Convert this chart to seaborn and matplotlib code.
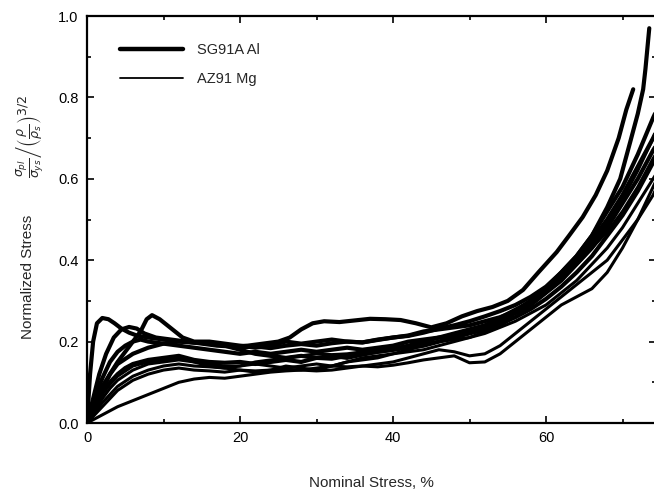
import numpy as np
import pandas as pd
import matplotlib
matplotlib.use("Agg")
import matplotlib.pyplot as plt
import seaborn as sns
from matplotlib.lines import Line2D

# ---------------- data ----------------
materials = ["SG91A Al", "AZ91 Mg"]

al1_x = [0, 0.4, 0.8, 1.3, 2.0, 2.8, 3.6, 4.5, 5.5, 6.5, 8, 10, 12, 14, 16, 18, 20, 22, 24, 26, 28, 30, 32, 34, 36, 38, 40, 42, 44, 46, 48, 50, 52, 54, 56, 58, 60, 62, 64, 66, 68, 69.7, 71, 72, 72.7, 73, 73.5]
al1_y = [0, 0.12, 0.2, 0.245, 0.258, 0.255, 0.245, 0.232, 0.222, 0.215, 0.21, 0.205, 0.2, 0.198, 0.196, 0.19, 0.186, 0.188, 0.184, 0.19, 0.194, 0.19, 0.196, 0.2, 0.198, 0.204, 0.21, 0.214, 0.222, 0.232, 0.24, 0.25, 0.262, 0.275, 0.29, 0.31, 0.335, 0.37, 0.41, 0.46, 0.53, 0.6, 0.69, 0.76, 0.82, 0.87, 0.97]

al2_x = [0, 0.8, 1.6, 2.5, 3.5, 4.5, 5.5, 6.5, 7.5, 9, 11, 13, 15, 17, 19, 21, 23, 25, 26.5, 28, 29.5, 31, 33, 35, 37, 39, 41, 43, 45, 47, 49, 51, 53, 55, 57, 59, 61.4, 63, 64.8, 66.5, 68, 69.5, 70.5, 71.4]
al2_y = [0, 0.06, 0.12, 0.17, 0.21, 0.23, 0.236, 0.232, 0.22, 0.21, 0.205, 0.2, 0.195, 0.19, 0.188, 0.19, 0.195, 0.2, 0.21, 0.23, 0.245, 0.25, 0.248, 0.252, 0.256, 0.255, 0.253, 0.245, 0.235, 0.245, 0.262, 0.275, 0.285, 0.3, 0.327, 0.37, 0.42, 0.46, 0.506, 0.56, 0.62, 0.7, 0.77, 0.82]

al3_x = [0, 1, 2, 3, 4, 5, 6, 7, 7.8, 8.5, 9.5, 10.5, 11.5, 12.5, 14, 16, 18, 20, 22, 24, 26, 28, 30, 32, 34, 36, 38, 40, 42, 44, 46, 48, 50, 52, 54, 56, 58, 60, 62, 64, 66, 68, 70, 72, 74, 75]
al3_y = [0, 0.04, 0.08, 0.12, 0.15, 0.175, 0.2, 0.225, 0.255, 0.265, 0.255, 0.24, 0.225, 0.21, 0.2, 0.2, 0.195, 0.19, 0.185, 0.19, 0.2, 0.195, 0.2, 0.205, 0.2, 0.198, 0.205, 0.21, 0.215, 0.225, 0.23, 0.235, 0.24, 0.25, 0.26, 0.275, 0.3, 0.33, 0.36, 0.4, 0.45, 0.5, 0.56, 0.63, 0.7, 0.74]

al4_x = [0, 1, 2, 3, 4, 5, 6, 7, 8, 10, 12, 14, 16, 18, 20, 22, 24, 26, 28, 30, 32, 34, 36, 38, 40, 42, 44, 46, 48, 50, 52, 54, 56, 58, 60, 62, 64, 66, 68, 70, 72, 74, 75]
al4_y = [0, 0.06, 0.11, 0.15, 0.175, 0.19, 0.2, 0.205, 0.2, 0.195, 0.19, 0.185, 0.18, 0.175, 0.17, 0.175, 0.17, 0.175, 0.18, 0.175, 0.18, 0.185, 0.18, 0.185, 0.19, 0.2, 0.205, 0.21, 0.215, 0.225, 0.235, 0.25, 0.27, 0.29, 0.32, 0.35, 0.39, 0.43, 0.48, 0.54, 0.6, 0.67, 0.7]

al5_x = [0, 1, 2, 3, 4, 6, 8, 10, 12, 14, 16, 18, 20, 22, 24, 26, 28, 30, 32, 34, 36, 38, 40, 42, 44, 46, 48, 50, 52, 54, 56, 58, 60, 62, 64, 66, 68, 70, 72, 74, 75]
al5_y = [0, 0.05, 0.09, 0.12, 0.145, 0.17, 0.185, 0.195, 0.2, 0.198, 0.195, 0.19, 0.18, 0.17, 0.165, 0.16, 0.165, 0.16, 0.158, 0.165, 0.17, 0.175, 0.18, 0.19, 0.2, 0.21, 0.22, 0.23, 0.24, 0.255, 0.275, 0.3, 0.33, 0.37, 0.41, 0.46, 0.52, 0.58, 0.66, 0.75, 0.79]

al6_x = [0, 1, 2, 3, 4, 5, 6, 8, 10, 12, 13, 14, 16, 18, 20, 22, 24, 26, 28, 30, 32, 34, 36, 38, 40, 42, 44, 46, 48, 50, 52, 54, 56, 58, 60, 62, 64, 66, 68, 70, 72, 74, 75]
al6_y = [0, 0.04, 0.075, 0.1, 0.12, 0.135, 0.145, 0.155, 0.16, 0.165, 0.16, 0.155, 0.15, 0.148, 0.15, 0.145, 0.15, 0.155, 0.15, 0.16, 0.165, 0.16, 0.168, 0.175, 0.18, 0.185, 0.19, 0.2, 0.21, 0.22, 0.23, 0.245, 0.26, 0.28, 0.305, 0.335, 0.37, 0.41, 0.46, 0.51, 0.57, 0.64, 0.67]

mg_x = [0, 1, 2, 3, 4, 6, 8, 10, 12, 14, 16, 18, 20, 22, 24, 26, 28, 30, 32, 34, 36, 38, 40, 42, 44, 46, 48, 50, 52, 54, 56, 58, 60, 62, 64, 66, 68, 70, 72, 74, 75]
mg1_y = [0, 0.03, 0.06, 0.085, 0.105, 0.13, 0.145, 0.15, 0.155, 0.15, 0.145, 0.14, 0.14, 0.145, 0.14, 0.135, 0.14, 0.145, 0.14, 0.15, 0.155, 0.16, 0.17, 0.18, 0.19, 0.2, 0.205, 0.21, 0.22, 0.235, 0.25, 0.27, 0.29, 0.32, 0.35, 0.39, 0.43, 0.48, 0.54, 0.6, 0.63]
mg2_y = [0, 0.02, 0.04, 0.06, 0.08, 0.105, 0.12, 0.13, 0.135, 0.13, 0.128, 0.125, 0.13, 0.128, 0.13, 0.132, 0.13, 0.135, 0.14, 0.138, 0.14, 0.145, 0.15, 0.16, 0.17, 0.18, 0.175, 0.165, 0.17, 0.19, 0.22, 0.25, 0.28, 0.31, 0.34, 0.37, 0.4, 0.45, 0.5, 0.56, 0.6]
mg3_y = [0, 0.01, 0.02, 0.03, 0.04, 0.055, 0.07, 0.085, 0.1, 0.108, 0.112, 0.11, 0.115, 0.12, 0.125, 0.128, 0.13, 0.128, 0.13, 0.135, 0.14, 0.138, 0.142, 0.148, 0.155, 0.16, 0.165, 0.148, 0.15, 0.17, 0.2, 0.23, 0.26, 0.29, 0.31, 0.33, 0.37, 0.43, 0.5, 0.58, 0.62]
mg4_y = [0, 0.04, 0.07, 0.095, 0.115, 0.14, 0.15, 0.155, 0.16, 0.15, 0.14, 0.135, 0.13, 0.125, 0.13, 0.14, 0.135, 0.13, 0.14, 0.15, 0.16, 0.165, 0.17, 0.175, 0.18, 0.19, 0.2, 0.21, 0.225, 0.24, 0.26, 0.29, 0.32, 0.355, 0.39, 0.43, 0.47, 0.52, 0.58, 0.65, 0.68]
mg5_y = [0, 0.025, 0.05, 0.07, 0.09, 0.115, 0.13, 0.14, 0.145, 0.14, 0.138, 0.135, 0.14, 0.15, 0.155, 0.16, 0.165, 0.17, 0.168, 0.17, 0.175, 0.18, 0.185, 0.19, 0.195, 0.2, 0.21, 0.225, 0.24, 0.26, 0.28, 0.3, 0.33, 0.36, 0.4, 0.44, 0.49, 0.55, 0.62, 0.7, 0.74]

x_ticks = [0, 20, 40, 60]
y_ticks = [0.0, 0.2, 0.4, 0.6, 0.8, 1.0]

# ---------------- assemble long table ----------------
curves = [
    ("al1", materials[0], al1_x, al1_y), ("al2", materials[0], al2_x, al2_y),
    ("al3", materials[0], al3_x, al3_y), ("al4", materials[0], al4_x, al4_y),
    ("al5", materials[0], al5_x, al5_y), ("al6", materials[0], al6_x, al6_y),
    ("mg1", materials[1], mg_x, mg1_y), ("mg2", materials[1], mg_x, mg2_y),
    ("mg3", materials[1], mg_x, mg3_y), ("mg4", materials[1], mg_x, mg4_y),
    ("mg5", materials[1], mg_x, mg5_y),
]
rows = []
for cid, mat, xs, ys in curves:
    for i, (a, b) in enumerate(zip(xs, ys)):
        rows.append(dict(curve=cid, material=mat, strain=a, stress=b, order=i))
df = pd.DataFrame(rows)

# ---------------- plot ----------------
sns.set_style("ticks")
plt.rcParams["font.family"] = ["Liberation Sans", "DejaVu Sans"]
plt.rcParams["mathtext.fontset"] = "dejavusans"

fig = plt.figure(figsize=(6.54, 4.90), dpi=100)
ax = fig.add_axes([87 / 654, 67 / 490, 569 / 654, 407 / 490])

widths = {materials[0]: 3.0, materials[1]: 2.2}
for cid, mat, xs, ys in curves:
    sub = df[df.curve == cid]
    sns.lineplot(data=sub, x="strain", y="stress", sort=False, estimator=None,
                 color="black", lw=widths[mat], ax=ax, legend=False)

ax.set_xlim(0, 569 / 7.65)
ax.set_ylim(0, 1.0)
ax.set_xticks(x_ticks)
ax.set_yticks(y_ticks)
ax.set_xticks([10, 30, 50, 70], minor=True)
ax.set_yticks([0.1, 0.3, 0.5, 0.7, 0.9], minor=True)
ax.set_xticklabels([str(v) for v in x_ticks])
ax.set_yticklabels([f"{v:.1f}" for v in y_ticks])
ax.tick_params(which="both", direction="in", top=True, right=True, width=1.2,
               labelsize=10.5, colors="black", pad=6)
ax.tick_params(which="major", length=5)
ax.tick_params(which="minor", length=3)
for s in ax.spines.values():
    s.set_linewidth(1.6)
    s.set_color("black")

ax.set_xlabel("Nominal Stress, %", fontsize=11, labelpad=22)
ax.set_ylabel("")

fig.text(28 / 654, 1 - 277 / 490, "Normalized Stress", rotation=90,
         ha="center", va="center", fontsize=11)
fig.text(30 / 654, 1 - 136 / 490,
         r"$\frac{\sigma_{pl}}{\sigma_{ys}}\left/\left(\frac{\rho}{\rho_s}\right)^{3/2}\right.$",
         rotation=90, ha="center", va="center", fontsize=13)

handles = [Line2D([], [], color="black", lw=3.2), Line2D([], [], color="black", lw=1.3)]
ax.legend(handles, materials, loc="upper left", bbox_to_anchor=(0.035, 0.965),
          frameon=False, fontsize=10.5, handlelength=4.3, handletextpad=1.0,
          labelspacing=1.0)

fig.savefig("out.png", dpi=100)
